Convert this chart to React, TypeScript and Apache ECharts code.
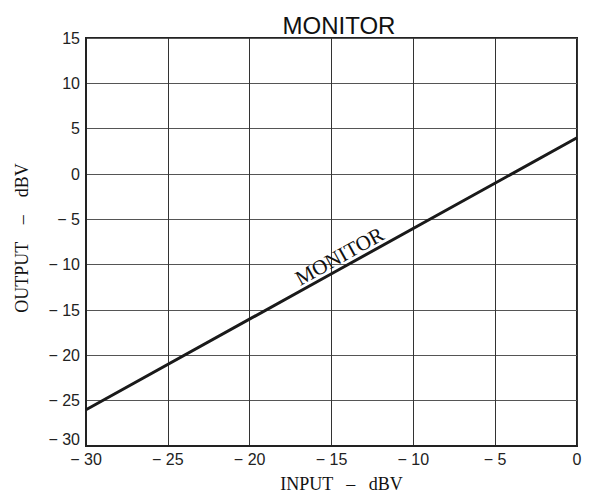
import React, { useEffect, useRef } from "react";
import * as echarts from "echarts";

const inputDbv = [-30, -15, 0];
const outputDbv = [-26, -11, 4];
const xTicks = { min: -30, max: 0, interval: 5 };
const yTicks = { min: -30, max: 15, interval: 5 };
const titleText = "MONITOR";
const lineLabel = "MONITOR";
const xName = "INPUT   \u2013   dBV";
const yName = "OUTPUT    \u2013    dBV";

const fmt = (v: number) => (v < 0 ? "\u2212 " + Math.abs(v) : String(v));

export default function App() {
  const ref = useRef<HTMLDivElement>(null);
  useEffect(() => {
    const chart = echarts.init(ref.current!, undefined, { renderer: "svg" });
    const data = inputDbv.map((x, i) =>
      i === 1
        ? {
            value: [x, outputDbv[i]],
            symbol: "circle",
            symbolSize: 0.1,
            itemStyle: { color: "rgba(0,0,0,0)" },
            label: {
              show: true,
              formatter: lineLabel,
              rotate: 29,
              position: "top",
              distance: 1,
              offset: [15, 0],
              fontFamily: "Liberation Serif",
              fontSize: 21,
              color: "#111",
            },
          }
        : { value: [x, outputDbv[i]], symbol: "none" }
    );
    chart.setOption({
      animation: false,
      backgroundColor: "#fff",
      title: {
        text: titleText,
        left: 334,
        top: 8,
        textAlign: "center",
        textStyle: { fontFamily: "Liberation Sans", fontSize: 24, fontWeight: "normal", color: "#111" },
      },
      grid: { left: 86, right: 13, top: 38, bottom: 54, show: true, borderColor: "#222", borderWidth: 2 },
      xAxis: {
        type: "value",
        ...xTicks,
        name: xName,
        nameLocation: "middle",
        nameGap: 29,
        nameTextStyle: { fontFamily: "Liberation Serif", fontSize: 18, color: "#111", padding: [0, 0, 0, 20] },
        axisLine: { show: true, onZero: false, lineStyle: { color: "#222", width: 2 } },
        axisTick: { show: false },
        axisLabel: { formatter: fmt, fontFamily: "Liberation Sans", fontSize: 16, color: "#222", margin: 5 },
        splitLine: { show: true, lineStyle: { color: "#333", width: 1 } },
      },
      yAxis: {
        type: "value",
        ...yTicks,
        name: yName,
        nameLocation: "middle",
        nameGap: 55,
        nameTextStyle: { fontFamily: "Liberation Serif", fontSize: 18, color: "#111", padding: [0, 0, 0, 8] },
        axisLine: { show: true, onZero: false, lineStyle: { color: "#222", width: 2 } },
        axisTick: { show: false },
        axisLabel: {
          formatter: (v: number) => (v === yTicks.min ? "{low|" + fmt(v) + "}" : fmt(v)),
          rich: { low: { fontFamily: "Liberation Sans", fontSize: 16, color: "#222", padding: [0, 0, 14, 0] } },
          fontFamily: "Liberation Sans",
          fontSize: 16,
          color: "#222",
          margin: 6,
        },
        splitLine: { show: true, lineStyle: { color: "#555", width: 1 } },
      },
      series: [
        {
          type: "line",
          data,
          showSymbol: true,
          lineStyle: { color: "#1a1a1a", width: 3 },
        },
      ],
    });
    return () => chart.dispose();
  }, []);
  return <div ref={ref} style={{ width: 590, height: 500, position: "absolute", left: 0, top: 0 }} />;
}
